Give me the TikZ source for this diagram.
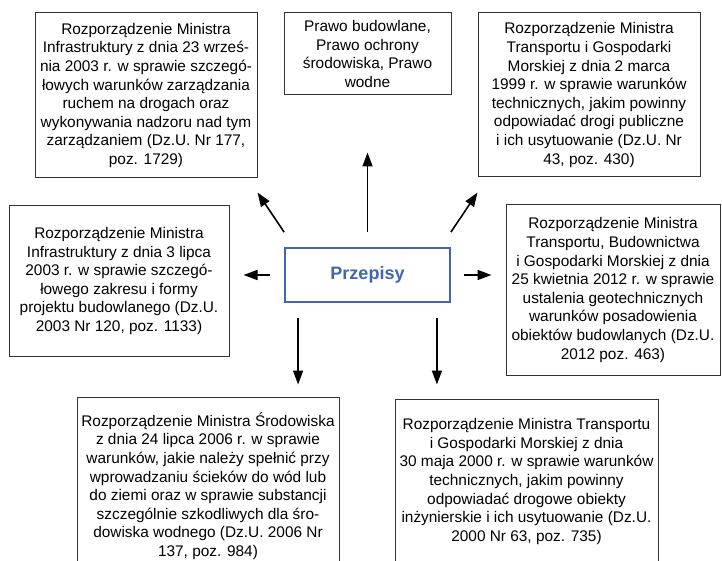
\documentclass[tikz,border=0pt]{standalone}
\usepackage{fontspec}
\setmainfont{Liberation Sans}
\usetikzlibrary{arrows.meta}
\definecolor{przblue}{HTML}{4065B4}

\begin{document}
\begin{tikzpicture}[x=1pt, y=-1pt,
        akt/.style={draw=black!80, line width=1pt, align=center, inner sep=0pt,
            font=\fontsize{15.4}{18.6}\selectfont},
        glowny/.style={draw=przblue, line width=1.8pt, text=przblue,
            font=\fontsize{18}{21}\selectfont\bfseries,
            minimum width=165pt, minimum height=54pt},
        strz/.style={line width=1.6pt, -{Triangle[length=14pt, width=10pt]}}]
        \clip (0,0) rectangle (722,561);
        \node[glowny] (prz) at (367.5,275) {Przepisy};
        \node[akt, minimum width=222pt, minimum height=165pt] (tl) at (146,95.5)
            {Rozporządzenie Ministra\\ Infrastruktury z dnia 23 wrześ-\\
            nia 2003 r. w sprawie szczegó-\\ łowych warunków zarządzania\\
            ruchem na drogach oraz\\ wykonywania nadzoru nad tym\\
            zarządzaniem (Dz.U. Nr 177,\\ poz. 1729)};
        \node[akt, minimum width=167pt, minimum height=82pt] (tc) at (367.5,54)
            {Prawo budowlane,\\ Prawo ochrony\\ środowiska, Prawo\\ wodne};
        \node[akt, minimum width=222pt, minimum height=164pt] (tr) at (589,95)
            {Rozporządzenie Ministra\\ Transportu i Gospodarki\\
            Morskiej z dnia 2 marca\\ 1999 r. w sprawie warunków\\
            technicznych, jakim powinny\\ odpowiadać drogi publiczne\\
            i ich usytuowanie (Dz.U. Nr\\ 43, poz. 430)};
        \node[akt, minimum width=220pt, minimum height=150pt] (ml) at (119,281)
            {Rozporządzenie Ministra\\ Infrastruktury z dnia 3 lipca\\
            2003 r. w sprawie szczegó-\\ łowego zakresu i formy\\
            projektu budowlanego (Dz.U.\\ 2003 Nr 120, poz. 1133)};
        \node[akt, minimum width=214pt, minimum height=170pt] (mr) at (613,290)
            {Rozporządzenie Ministra\\ Transportu, Budownictwa\\
            i Gospodarki Morskiej z dnia\\ 25 kwietnia 2012 r. w sprawie\\
            ustalenia geotechnicznych\\ warunków posadowienia\\
            obiektów budowlanych (Dz.U.\\ 2012 poz. 463)};
        \node[akt, minimum width=262pt, minimum height=178pt] (bl) at (208,486)
            {Rozporządzenie Ministra Środowiska\\ z dnia 24 lipca 2006 r. w sprawie\\
            warunków, jakie należy spełnić przy\\ wprowadzaniu ścieków do wód lub\\
            do ziemi oraz w sprawie substancji\\ szczególnie szkodliwych dla śro-\\
            dowiska wodnego (Dz.U. 2006 Nr\\ 137, poz. 984)};
        \node[akt, minimum width=263pt, minimum height=165pt] (br) at (526.5,481.5)
            {Rozporządzenie Ministra Transportu\\ i Gospodarki Morskiej z dnia\\
            30 maja 2000 r. w sprawie warunków\\ technicznych, jakim powinny\\
            odpowiadać drogowe obiekty\\ inżynierskie i ich usytuowanie (Dz.U.\\
            2000 Nr 63, poz. 735)};
        % strzalki od przepisow
        \draw[strz, shorten <=15pt, shorten >=57pt] (prz.north) -- (tc.south);
        \draw[strz] ([yshift=15pt]prz.north west) -- ([yshift=-14pt]tl.south east);
        \draw[strz] ([yshift=15pt]prz.north east) -- ([yshift=-15pt]tr.south west);
        \draw[strz, shorten <=14pt, shorten >=14pt] (prz.west) -- (prz.west -| ml.east);
        \draw[strz, shorten <=13pt, shorten >=14pt] (prz.east) -- (prz.east -| mr.west);
        \coordinate (dl) at ([xshift=14pt]prz.south west);
        \coordinate (dr) at ([xshift=-14pt]prz.south east);
        \draw[strz, shorten <=15pt, shorten >=12pt] (dl) -- (dl |- bl.north);
        \draw[strz, shorten <=15pt, shorten >=14pt] (dr) -- (dr |- br.north);
\end{tikzpicture}
\end{document}
